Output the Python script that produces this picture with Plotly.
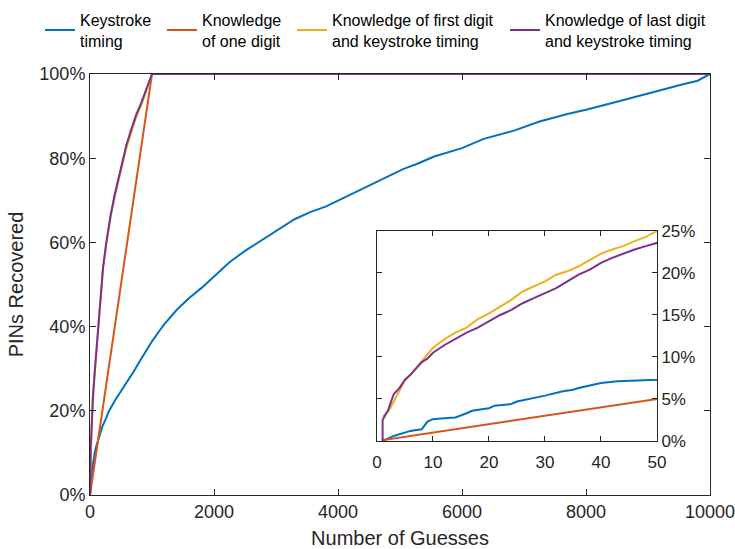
import plotly.graph_objects as go

# ---- data (percent of PINs recovered vs. number of guesses) ----
keystroke_x = [1, 2, 3, 4, 5, 6, 7, 8, 9, 10, 12, 14, 16, 17, 19, 20, 21, 24, 25, 28,
               30, 33, 35, 36, 38, 40, 43, 46, 50,
               75, 100, 150, 200, 263, 300, 400, 500, 600, 700, 800, 900, 1000,
               1100, 1200, 1400, 1600, 1800, 2000, 2250, 2500, 2750, 3000, 3300,
               3550, 3800, 4000, 4250, 4500, 4800, 5050, 5300, 5550, 6000, 6350,
               6850, 7250, 7700, 8000, 8500, 9000, 9550, 9800, 10000]
keystroke_y = [0, 0.3, 0.6, 0.8, 1.0, 1.2, 1.3, 1.4, 2.3, 2.6, 2.7, 2.8, 3.3, 3.6, 3.8,
               3.9, 4.2, 4.4, 4.7, 5.1, 5.4, 5.9, 6.1, 6.3, 6.6, 6.9, 7.1, 7.2, 7.3,
               10.0, 11.5, 14.0, 16.3, 18.3, 19.8, 22.4, 24.6, 26.8, 29.2, 31.7, 34.2,
               36.5, 38.6, 40.6, 44.0, 46.8, 49.2, 52.0, 55.3, 58.0, 60.4, 62.8, 65.5,
               67.2, 68.5, 69.9, 71.7, 73.6, 75.7, 77.4, 78.8, 80.4, 82.4, 84.6, 86.6,
               88.7, 90.5, 91.5, 93.4, 95.4, 97.5, 98.4, 100]

one_digit_x = [1, 1000, 10000]
one_digit_y = [0.1, 100, 100]

first_digit_x = [1, 2, 3, 4, 5, 6, 7, 8, 9, 10, 12, 14, 16, 18, 20, 22, 24, 26, 28, 30,
                 32, 34, 36, 38, 40, 42, 44, 46, 48, 50,
                 75, 100, 129, 150, 183, 210, 263, 333, 398, 478, 532, 586, 667, 747,
                 828, 935, 1000, 10000]
first_digit_y = [2.9, 3.5, 4.7, 6.1, 7.3, 7.9, 8.7, 9.4, 10.3, 11.1, 12.1, 12.9, 13.5,
                 14.5, 15.2, 16.0, 16.8, 17.8, 18.4, 19.0, 19.8, 20.2, 20.8, 21.6, 22.3,
                 22.8, 23.2, 23.8, 24.3, 25.0,
                 30.0, 34.5, 40.5, 44.3, 49.5, 53.8, 59.6, 66.0, 70.8, 75.8, 79.3, 82.4,
                 86.2, 89.8, 92.6, 97.0, 100, 100]

last_digit_x = [1, 1, 2, 3, 4, 5, 6, 7, 8, 9, 10, 12, 14, 16, 18, 20, 22, 24, 26, 28, 30,
                32, 34, 36, 38, 40, 42, 44, 46, 48, 50,
                75, 100, 129, 150, 183, 210, 263, 333, 398, 478, 532, 586, 667, 747,
                828, 935, 1000, 10000]
last_digit_y = [0, 2.5, 3.7, 5.6, 6.3, 7.3, 7.9, 8.7, 9.4, 9.8, 10.5, 11.4, 12.2, 12.9,
                13.5, 14.3, 15.0, 15.6, 16.4, 17.0, 17.6, 18.2, 19.0, 19.8, 20.4, 21.2,
                21.8, 22.3, 22.8, 23.2, 23.6,
                29.0, 34.0, 40.0, 44.0, 49.5, 54.0, 60.0, 66.5, 71.3, 76.3, 80.0, 83.1,
                86.9, 90.4, 93.2, 97.2, 100, 100]

main_xticks = [0, 2000, 4000, 6000, 8000, 10000]
main_yticks = [0, 20, 40, 60, 80, 100]
inset_xticks = [0, 10, 20, 30, 40, 50]
inset_yticks = [0, 5, 10, 15, 20, 25]

series = [
    ("Keystroke<br>timing", keystroke_x, keystroke_y, "#0072BD"),
    ("Knowledge<br>of one digit", one_digit_x, one_digit_y, "#D95319"),
    ("Knowledge of first digit<br>and keystroke timing", first_digit_x, first_digit_y, "#EDB120"),
    ("Knowledge of last digit<br>and keystroke timing", last_digit_x, last_digit_y, "#7E2F8E"),
]
legend_ids = ["legend", "legend2", "legend3", "legend4"]
legend_left_px = [40, 162, 292, 505]

FONT = "Liberation Sans, Arial, Helvetica, sans-serif"
INK = "#262626"
W, H = 735, 549

fig = go.Figure()

# main axes: full range of guesses
for (name, xs, ys, col), lid in zip(series, legend_ids):
    fig.add_trace(go.Scatter(x=xs, y=ys, mode="lines", name=name,
                             line=dict(color=col, width=2), legend=lid,
                             xaxis="x", yaxis="y"))

# inset axes: first 50 guesses
for name, xs, ys, col in series:
    fig.add_trace(go.Scatter(x=xs, y=ys, mode="lines", name=name,
                             line=dict(color=col, width=2), showlegend=False,
                             xaxis="x2", yaxis="y2"))

axis_common = dict(showline=True, linecolor=INK, linewidth=1, mirror="ticks",
                   ticks="inside", tickcolor=INK, showgrid=False, zeroline=False,
                   automargin=False, ticklabeloverflow="allow")
tick_font = dict(family=FONT, size=18, color=INK)
inset_tick_font = dict(family=FONT, size=17, color=INK)
title_font = dict(family=FONT, size=20, color=INK)

layout_legends = {}
for lid, left in zip(legend_ids, legend_left_px):
    layout_legends[lid] = dict(orientation="h", xref="container", yref="container",
                               x=left / W, y=0.995, xanchor="left", yanchor="top",
                               font=dict(family=FONT, size=16, color="#000000"),
                               bgcolor="rgba(0,0,0,0)", itemwidth=30)

fig.update_layout(
    width=W, height=H,
    margin=dict(l=90, r=25, t=74, b=54, autoexpand=False),
    paper_bgcolor="white", plot_bgcolor="white",
    font=dict(family=FONT, color=INK),
    xaxis=dict(domain=[0, 1], range=[0, 10000], tickmode="array",
               tickvals=main_xticks, ticktext=[str(v) for v in main_xticks],
               ticklen=6, tickfont=tick_font, ticklabelstandoff=0,
               title=dict(text="Number of Guesses", font=title_font, standoff=14),
               **axis_common),
    yaxis=dict(domain=[0, 1], range=[0, 100], tickmode="array",
               tickvals=main_yticks, ticktext=[f"{v}%" for v in main_yticks],
               ticklen=6, tickfont=tick_font,
               title=dict(text="PINs Recovered", font=title_font, standoff=10),
               **axis_common),
    xaxis2=dict(domain=[0.4629, 0.9145], range=[0, 50], tickmode="array",
                tickvals=inset_xticks, ticktext=[str(v) for v in inset_xticks],
                anchor="y2", ticklen=5, tickfont=inset_tick_font, ticklabelstandoff=6,
                **axis_common),
    yaxis2=dict(domain=[0.1283, 0.6271], range=[0, 25], tickmode="array",
                tickvals=inset_yticks, ticktext=[f"{v}%" for v in inset_yticks],
                anchor="x2", side="right", ticklen=5, tickfont=inset_tick_font,
                **axis_common),
    showlegend=True,
    **layout_legends,
)

fig.write_html("out.html")
